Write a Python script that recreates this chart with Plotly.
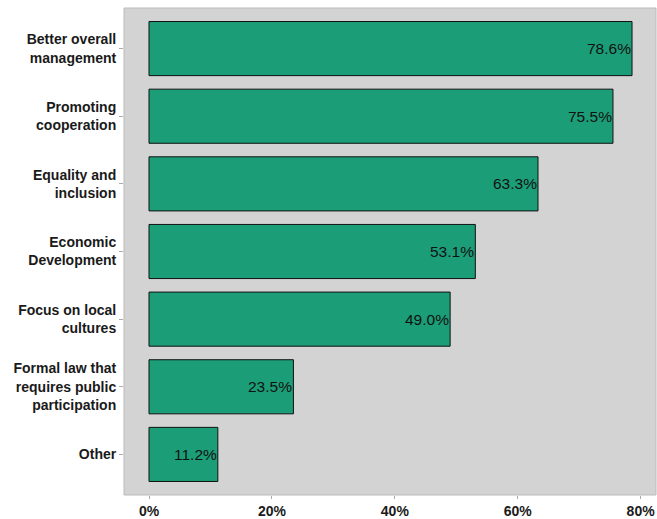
import plotly.graph_objects as go

categories = ["Better overall<br>management", "Promoting<br>cooperation", "Equality and<br>inclusion",
              "Economic<br>Development", "Focus on local<br>cultures",
              "Formal law that<br>requires public<br>participation", "Other"]
values = [78.6, 75.5, 63.3, 53.1, 49.0, 23.5, 11.2]
labels = [f"{v:.1f}%" for v in values]
x_ticks = [0, 20, 40, 60, 80]
x_tick_labels = ["0%", "20%", "40%", "60%", "80%"]

fig = go.Figure()
fig.add_trace(go.Bar(
    y=categories, x=values, orientation="h",
    marker=dict(color="#1b9e77", line=dict(color="#111111", width=1)),
    width=0.8, hoverinfo="skip",
))
for c, v, t in zip(categories, values, labels):
    fig.add_annotation(x=v, y=c, text=t, xanchor="right", yanchor="middle",
                       showarrow=False, xshift=1,
                       font=dict(family="Liberation Sans, Arial", size=15.5, color="#111111"))

fig.update_layout(
    width=657, height=519,
    margin=dict(l=124, r=1, t=8, b=24),
    plot_bgcolor="#d3d3d3", paper_bgcolor="white",
    showlegend=False,
    font=dict(family="Liberation Sans, Arial", color="#222222"),
)
fig.update_xaxes(range=[-4.07, 82.5], tickvals=x_ticks, ticktext=x_tick_labels,
                 showgrid=False, zeroline=False, ticks="outside", ticklen=3,
                 tickcolor="#aaaaaa", tickfont=dict(size=14, weight="bold", color="#1a1a1a"),
                 showline=False)
fig.update_yaxes(categoryorder="array", categoryarray=categories[::-1],
                 range=[-0.6, 6.6], showgrid=False, zeroline=False,
                 ticks="outside", ticklen=4, tickcolor="#aaaaaa",
                 tickfont=dict(size=14, weight="bold", color="#1a1a1a"))
fig.add_shape(type="rect", xref="paper", yref="paper", x0=0, x1=1, y0=0, y1=1,
              line=dict(color="#bbbbbb", width=1), fillcolor="rgba(0,0,0,0)")
fig.write_html("out.html", config={"displayModeBar": False},
               post_script="document.body.style.margin='0';document.body.style.overflow='hidden';")
